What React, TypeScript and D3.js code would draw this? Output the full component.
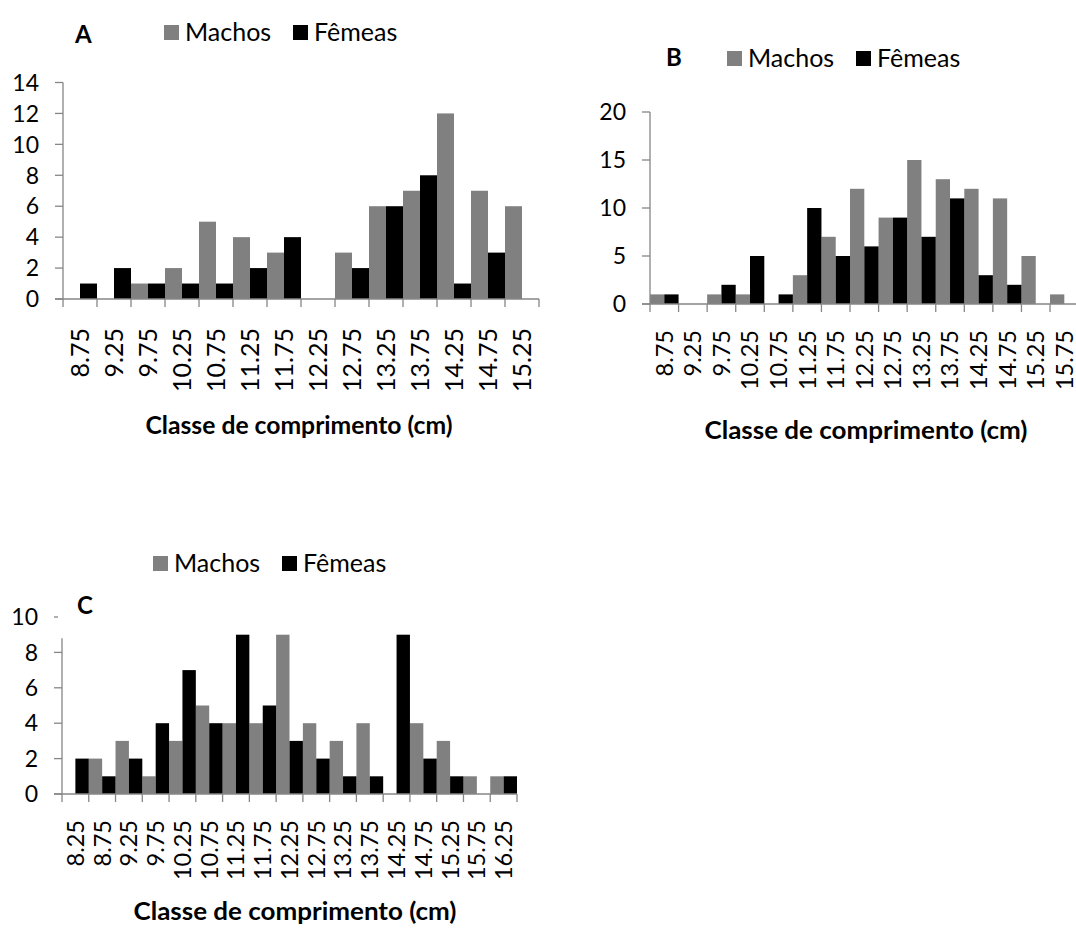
import React from 'react';
import * as d3 from 'd3';

const SERIES = ['Machos', 'Fêmeas'];
const COLORS = ['#808080', '#000000'];
const AXIS = '#868686';
const FONT = 'Lato, "Open Sans", sans-serif';
const TITLE = 'Classe de comprimento (cm)';

// painel A
const catsA = ['8.75', '9.25', '9.75', '10.25', '10.75', '11.25', '11.75', '12.25', '12.75', '13.25', '13.75', '14.25', '14.75', '15.25'];
const machosA = [0, 0, 1, 2, 5, 4, 3, 0, 3, 6, 7, 12, 7, 6];
const femeasA = [1, 2, 1, 1, 1, 2, 4, 0, 2, 6, 8, 1, 3, 0];

// painel B
const catsB = ['8.75', '9.25', '9.75', '10.25', '10.75', '11.25', '11.75', '12.25', '12.75', '13.25', '13.75', '14.25', '14.75', '15.25', '15.75'];
const machosB = [1, 0, 1, 1, 0, 3, 7, 12, 9, 15, 13, 12, 11, 5, 1];
const femeasB = [1, 0, 2, 5, 1, 10, 5, 6, 9, 7, 11, 3, 2, 0, 0];

// painel C
const catsC = ['8.25', '8.75', '9.25', '9.75', '10.25', '10.75', '11.25', '11.75', '12.25', '12.75', '13.25', '13.75', '14.25', '14.75', '15.25', '15.75', '16.25'];
const machosC = [0, 2, 3, 1, 3, 5, 4, 4, 9, 4, 3, 4, 0, 4, 3, 1, 1];
const femeasC = [2, 1, 2, 4, 7, 4, 9, 5, 3, 2, 1, 1, 9, 2, 1, 0, 1];

type PanelProps = {
  letter: string;
  cats: string[];
  machos: number[];
  femeas: number[];
  x0: number;
  x1: number;
  yTop: number;
  yBottom: number;
  yMax: number;
  yStep: number;
  letterX: number;
  letterY: number;
  legendX: number;
  legendY: number;
  titleX: number;
  titleY: number;
  titleLen: number;
  labelTop: number;
  labelSize: number;
  mask?: boolean;
};

function Panel(p: PanelProps) {
  const x = d3.scaleBand<string>().domain(p.cats).range([p.x0, p.x1]);
  const sub = d3.scaleBand<string>().domain(SERIES).range([0, x.bandwidth()]);
  const y = d3.scaleLinear().domain([0, p.yMax]).range([p.yBottom, p.yTop]);
  const yTicks = d3.range(0, p.yMax + p.yStep / 2, p.yStep);
  const values = [p.machos, p.femeas];
  const bounds = [...p.cats.map((c) => x(c) as number), p.x1];
  const tick = 8;

  return (
    <g>
      {values.map((vals, si) =>
        vals.map((v, i) => (
          <rect
            key={`${si}-${i}`}
            x={(x(p.cats[i]) as number) + (sub(SERIES[si]) as number)}
            y={y(v)}
            width={sub.bandwidth()}
            height={p.yBottom - y(v)}
            fill={COLORS[si]}
          />
        ))
      )}
      {/* eixo y */}
      <line x1={p.x0} x2={p.x0} y1={y(p.yMax)} y2={p.yBottom} stroke={AXIS} strokeWidth={1.3} />
      {yTicks.map((t) => (
        <g key={t}>
          <line x1={p.x0 - tick} x2={p.x0} y1={y(t)} y2={y(t)} stroke={AXIS} strokeWidth={1.3} />
          <text x={p.x0 - 24} y={y(t)} dy="0.36em" textAnchor="end" fontSize={23} fontFamily={FONT} fill="#000">
            {t}
          </text>
        </g>
      ))}
      {/* eixo x */}
      <line x1={p.x0 - tick} x2={p.x1} y1={p.yBottom} y2={p.yBottom} stroke={AXIS} strokeWidth={1.3} />
      {bounds.map((b, i) => (
        <line key={i} x1={b} x2={b} y1={p.yBottom} y2={p.yBottom + tick} stroke={AXIS} strokeWidth={1.3} />
      ))}
      {p.cats.map((c) => (
        <text
          key={c}
          transform={`translate(${(x(c) as number) + x.bandwidth() / 2},${p.labelTop}) rotate(-90)`}
          textAnchor="end"
          dy="0.36em"
          fontSize={p.labelSize}
          fontFamily={FONT}
          fill="#000"
        >
          {c}
        </text>
      ))}
      {p.mask && <rect x={p.x0 - 4} y={p.letterY - 20} width={44} height={y(8.8) - (p.letterY - 20)} fill="#fff" />}
      <text x={p.letterX} y={p.letterY} fontSize={24} fontWeight="bold" fontFamily={FONT} fill="#000">
        {p.letter}
      </text>
      {/* legenda */}
      {SERIES.map((s, i) => (
        <g key={s} transform={`translate(${p.legendX + i * 129},${p.legendY})`}>
          <rect x={0} y={-15} width={15} height={15} fill={COLORS[i]} />
          <text x={21} y={1} fontSize={25} fontFamily={FONT} fill="#000">
            {s}
          </text>
        </g>
      ))}
      <text
        x={p.titleX}
        y={p.titleY}
        textAnchor="middle"
        fontSize={24.5}
        fontWeight="bold"
        fontFamily={FONT}
        textLength={p.titleLen}
        lengthAdjust="spacingAndGlyphs"
        fill="#000"
      >
        {TITLE}
      </text>
    </g>
  );
}

export default function App() {
  return (
    <svg width={1076} height={929} style={{ position: 'absolute', left: 0, top: 0, background: '#fff' }}>
      <rect width={1076} height={929} fill="#fff" />
      <Panel
        letter="A"
        cats={catsA}
        machos={machosA}
        femeas={femeasA}
        x0={63}
        x1={539}
        yTop={82.5}
        yBottom={299}
        yMax={14}
        yStep={2}
        letterX={75}
        letterY={43}
        legendX={164}
        legendY={40}
        titleX={299}
        titleY={434}
        titleLen={307}
        labelTop={328}
        labelSize={25}
      />
      <Panel
        letter="B"
        cats={catsB}
        machos={machosB}
        femeas={femeasB}
        x0={650}
        x1={1078.6}
        yTop={112}
        yBottom={304}
        yMax={20}
        yStep={5}
        letterX={666}
        letterY={66}
        legendX={727}
        legendY={66}
        titleX={866}
        titleY={439}
        titleLen={323}
        labelTop={330}
        labelSize={23.5}
      />
      <Panel
        letter="C"
        cats={catsC}
        machos={machosC}
        femeas={femeasC}
        x0={62}
        x1={517}
        yTop={617}
        yBottom={794}
        yMax={10}
        yStep={2}
        letterX={77}
        letterY={614}
        legendX={153}
        legendY={571}
        titleX={295}
        titleY={920}
        titleLen={323}
        labelTop={820}
        labelSize={23.5}
        mask
      />
    </svg>
  );
}
